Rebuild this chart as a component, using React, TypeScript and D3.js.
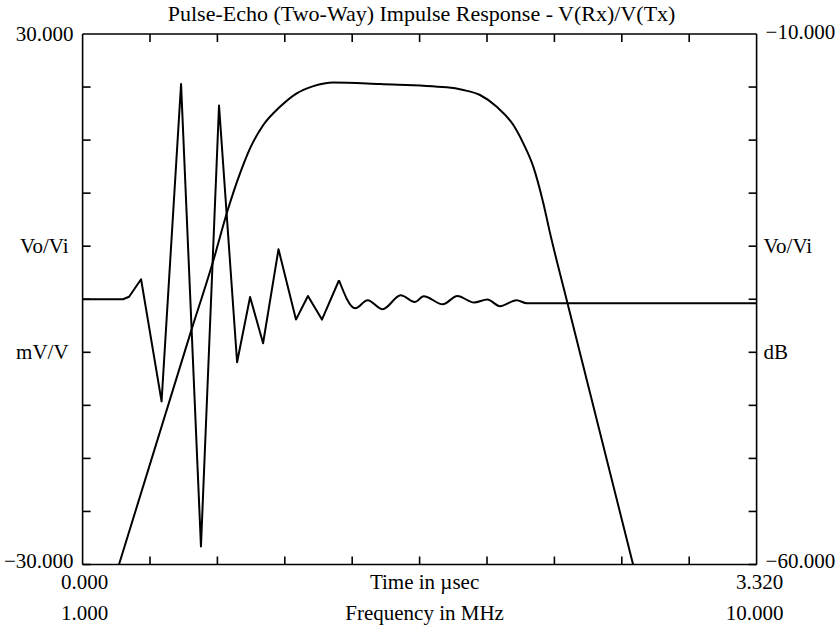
import * as d3 from "d3";

const MARGIN = { top: 34, right: 81.4, bottom: 63.5, left: 82.6 };
const WIDTH = 838;
const HEIGHT = 628;

const TITLE = "Pulse-Echo (Two-Way) Impulse Response - V(Rx)/V(Tx)";

// impulse response, sharp part (time in µs, mV/V)
const headTime = [0, 0.199, 0.229, 0.288, 0.389, 0.485, 0.583, 0.672, 0.761, 0.825, 0.889, 0.965, 1.051, 1.11, 1.179, 1.263];
const headValue = [0, 0, 0.28, 2.26, -11.55, 24.34, -27.96, 21.91, -7.13, 0.26, -4.98, 5.66, -2.3, 0.37, -2.3, 2.15];

// impulse response, ringing tail
const tailTime = [1.263, 1.343, 1.404, 1.478, 1.567, 1.637, 1.68, 1.774, 1.846, 1.928, 1.994, 2.056, 2.138, 2.188, 3.32];
const tailValue = [2.15, -1.02, -0.11, -1.13, 0.45, -0.31, 0.34, -0.57, 0.37, -0.37, -0.03, -0.79, -0.11, -0.45, -0.45];

// spectrum (MHz, dB)
const freqMHz = [1.486, 2.438, 2.755, 2.924, 3.102, 3.236, 3.413, 3.636, 3.859, 4.081, 4.348, 4.972, 5.862, 6.084, 6.307, 6.53, 6.752, 6.885, 7.019, 7.153, 7.242, 7.465, 8.354];
const freqDb = [-60, -38.24, -31.13, -26.92, -23.14, -20.78, -18.58, -16.86, -15.59, -14.91, -14.56, -14.72, -15.03, -15.28, -15.75, -16.86, -18.58, -20.31, -22.52, -25.97, -28.77, -35.09, -60.09];

const leftLabelValues = [30, 6, -6, -30];
const leftLabels = ["30.000", "Vo/Vi", "mV/V", "\u221230.000"];
const rightLabelValues = [-10, -30, -40, -60];
const rightLabels = ["\u221210.000", "Vo/Vi", "dB", "\u221260.000"];
const timeLabels = ["0.000", "Time in \u00b5sec", "3.320"];
const freqLabels = ["1.000", "Frequency in MHz", "10.000"];

const FONT = "'Liberation Serif', 'Times New Roman', serif";

export default function App() {
  const w = WIDTH - MARGIN.left - MARGIN.right;
  const h = HEIGHT - MARGIN.top - MARGIN.bottom;

  const xTime = d3.scaleLinear().domain([0, 3.32]).range([0, w]);
  const xFreq = d3.scaleLinear().domain([1, 10]).range([0, w]);
  const yLeft = d3.scaleLinear().domain([-30, 30]).range([h, 0]);
  const yRight = d3.scaleLinear().domain([-60, -10]).range([h, 0]);

  const head = d3
    .line<number>()
    .x((_, i) => xTime(headTime[i]))
    .y((d) => yLeft(d));
  const tail = d3
    .line<number>()
    .x((_, i) => xTime(tailTime[i]))
    .y((d) => yLeft(d))
    .curve(d3.curveMonotoneX);
  const spectrum = d3
    .line<number>()
    .x((_, i) => xFreq(freqMHz[i]))
    .y((d) => yRight(d))
    .curve(d3.curveMonotoneX);

  const divs = d3.range(0, 11);
  const tickLen = 8;
  const midX = w / 2 + 5;

  return (
    <svg
      width={WIDTH}
      height={HEIGHT}
      style={{ position: "absolute", left: 0, top: 0, background: "#fff" }}
      fontFamily={FONT}
      fontSize={21}
    >
      <defs>
        <clipPath id="plot-clip">
          <rect x={0} y={0} width={w} height={h} />
        </clipPath>
      </defs>
      <text x={MARGIN.left + w / 2 + 2} y={21} textAnchor="middle" fontSize={22}>
        {TITLE}
      </text>
      <g transform={`translate(${MARGIN.left},${MARGIN.top})`}>
        {/* frame */}
        <g stroke="#000" strokeWidth={1.6} fill="none">
          <line x1={0} y1={0} x2={w} y2={0} />
          <line x1={0} y1={h} x2={w} y2={h} />
          <line x1={0} y1={0} x2={0} y2={h} />
          <line x1={w} y1={0} x2={w} y2={h} />
          {divs.slice(1, 10).map((i) => {
            const x = (i / 10) * w;
            return (
              <g key={"x" + i}>
                <line x1={x} y1={0} x2={x} y2={tickLen} />
                <line x1={x} y1={h} x2={x} y2={h - tickLen} />
              </g>
            );
          })}
          {divs.slice(1, 11).map((i) => {
            const y = (i / 10) * h;
            return (
              <g key={"y" + i}>
                <line x1={0} y1={y} x2={tickLen} y2={y} />
                <line x1={w} y1={y} x2={w - tickLen} y2={y} />
              </g>
            );
          })}
        </g>

        {/* curves */}
        <g clipPath="url(#plot-clip)" fill="none" stroke="#000" strokeWidth={2} strokeLinejoin="round">
          <path d={spectrum(freqDb) ?? ""} />
          <path d={head(headValue) ?? ""} />
          <path d={tail(tailValue) ?? ""} />
        </g>

        {/* left labels */}
        {leftLabels.map((t, i) => (
          <text
            key={"l" + i}
            x={i === 1 || i === 2 ? -14 : -9}
            y={yLeft(leftLabelValues[i]) - (i === 3 ? 3 : 0)}
            dy="0.33em"
            textAnchor="end"
          >
            {t}
          </text>
        ))}
        {/* right labels */}
        {rightLabels.map((t, i) => (
          <text
            key={"r" + i}
            x={w + (i === 1 || i === 2 ? 7 : 9)}
            y={yRight(rightLabelValues[i]) - (i === 0 ? 2 : i === 3 ? 3 : 0)}
            dy="0.33em"
            textAnchor="start"
          >
            {t}
          </text>
        ))}
        {/* bottom labels */}
        {timeLabels.map((t, i) => (
          <text key={"t" + i} x={i === 0 ? xTime(0) + 2 : i === 1 ? midX : xTime(3.32) + 3} y={h + 24} textAnchor="middle">
            {t}
          </text>
        ))}
        {freqLabels.map((t, i) => (
          <text key={"f" + i} x={i === 0 ? xFreq(1) + 2 : i === 1 ? midX : xFreq(10) - 2} y={h + 55} textAnchor="middle">
            {t}
          </text>
        ))}
      </g>
    </svg>
  );
}
